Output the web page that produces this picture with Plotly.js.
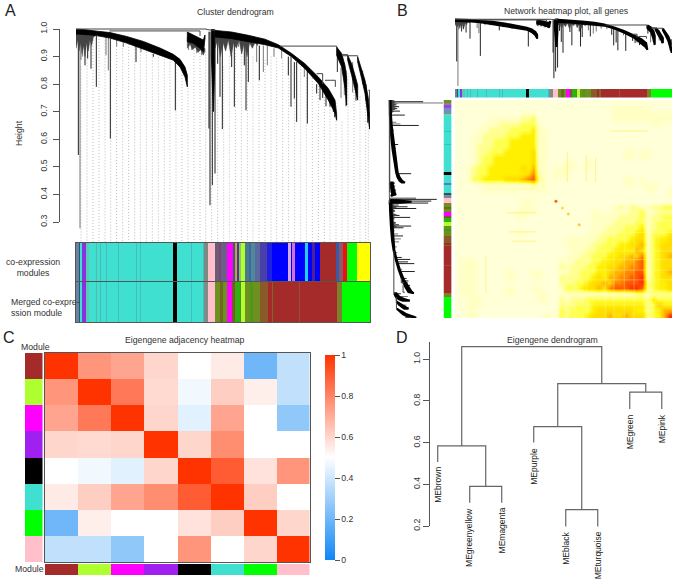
<!DOCTYPE html>
<html><head><meta charset="utf-8">
<script src="https://cdn.plot.ly/plotly-3.0.1.min.js"></script>
<style>html,body{margin:0;padding:0;background:#fff}</style></head>
<body><div id="chart" style="width:677px;height:579px"></div>
<script>
// ---------- Gene dendrogram (panels A and B): order along the tree, heights ----------
const bandOrder = [
  [0,22,57], [57,102,152,202,252,292,312,327,334], [334,352,372,382,387], [406,412,416],
  [417,467,517,567,607,647,687,727,757,777,782], [782,797,807,812], [815,827,837,845], [845,857,867,877,881]];
const bandHigh = [
  [.999,.998,.993], [.993,.987,.973,.955,.931,.908,.890,.862,.832], [.989,.978,.966,.960,.978], [.998,.998,.998],
  [.995,.989,.977,.963,.943,.911,.874,.826,.784,.742,.69], [.935,.911,.868,.820], [.905,.874,.832,.796], [.899,.856,.814,.748,.699]];
const bandLow = [
  [.982,.980,.977], [.977,.967,.949,.929,.905,.887,.862,.826,.790], [.954,.948,.930,.918,.966], [.90,.70,.85],
  [.971,.965,.953,.943,.931,.899,.856,.802,.742,.695,.669], [.905,.862,.784,.724], [.887,.832,.784,.742], [.881,.820,.766,.675,.637]];
const roughOrder = [[0,5,9,14,18,23,27,32,37,42,47,52,57],[417,425,433,441,449,457,465,473,481,489,497,505,513,521,529,537,545],[334,342,350,358,366,374,382,387]];
const roughHigh  = [[.995,.995,.995,.995,.995,.995,.995,.995,.995,.99,.99,.99,.99],[.985,.985,.985,.985,.98,.98,.98,.975,.975,.97,.97,.965,.96,.96,.955,.95,.945],[.97,.96,.96,.95,.95,.94,.93,.93]];
const roughLow   = [[.93,.96,.92,.95,.91,.94,.90,.95,.92,.96,.94,.97,.975],[.93,.96,.90,.95,.92,.96,.90,.95,.93,.96,.91,.95,.90,.95,.93,.95,.94],[.93,.945,.925,.935,.915,.925,.905,.92]];
const darkSpikeOrder = [7,27,35,45,61,103,180,232,298,402,409,417,425,432,439,467,475,505,510,517,550,637,645,655,662,694,722,732,740,750,762,772,776,784,810,840,870,875];
const darkSpikeHigh  = [.99,.98,.98,.98,.975,.965,.94,.91,.89,.99,.99,.97,.97,.97,.97,.965,.96,.95,.95,.95,.94,.9,.9,.88,.88,.85,.8,.8,.78,.76,.75,.74,.72,.91,.85,.8,.8,.72];
const darkSpikeLow   = [.543,.868,.893,.856,.79,.603,.88,.899,.705,.361,.434,.476,.874,.754,.637,.862,.718,.868,.705,.808,.814,.832,.718,.748,.663,.657,.766,.742,.75,.72,.718,.699,.68,.844,.72,.74,.74,.66];
const graySpikeOrder = [12,15,20,90,97,122,142,195,338,347,362,377,384,487,497,542,562,574,594,617,685,795,805,830,860];
const graySpikeHigh  = [.99,.98,.98,.97,.97,.96,.95,.93,.95,.95,.94,.92,.95,.96,.95,.95,.94,.94,.93,.93,.86,.86,.85,.88,.85];
const graySpikeLow   = [.277,.888,.9,.905,.85,.936,.935,.915,.924,.924,.912,.905,.924,.935,.911,.88,.844,.868,.899,.893,.826,.75,.76,.77,.8];
const thickSpikeOrder = [399];
const thickSpikeHigh  = [.99];
const thickSpikeLow   = [.639];
const linkOrder = [[0,392,392],[100,372,372],[392,417],[612,782,782],[747,778,778],[797,815,815],[800,845,845],[722,740,740],[877,881,881]];
const linkHeight = [[1,1,.998],[.993,.993,.975],[.998,.995],[.938,.938,.93],[.814,.814,.79],[.907,.907,.905],[.903,.903,.899],[.838,.838,.80],[.778,.778,.70]];
const guideOrder = [15,33,51,69,87,104,122,140,158,176,193,211,229,247,265,282,300,318,336,354,372,389,407,425,443,460,478,496,514,531,549,567,585,602,620,638,656,674,691,709,727,745,762,780,798,816,834,852,869,877];
const guideTop = [.864,.900,.960,.975,.970,.965,.960,.952,.946,.937,.929,.918,.908,.897,.890,.881,.864,.833,.785,.924,.924,.918,.912,.743,.864,.900,.924,.912,.912,.900,.888,.888,.900,.894,.888,.876,.876,.864,.846,.833,.815,.797,.773,.731,.664,.839,.815,.755,.743,.683];

// ---------- Module colour strips ----------
const T='turquoise', TD='#45bcc0', BK='black', PK='pink', MG='magenta', BR='brown', GY='greenyellow', PU='#8a30e0', BL='blue', LM='lime', OL='#6f8f20';
const sharedEdges  = [0,8,11,19,30,40,50,52,60,64,72,74,90,92,127,129,180,182,193,196,290,302,345,347,380,384];
const sharedModules= ['#6f7fa5','#1c5f5f',T,PU,'#5cc8b8',T,TD,T,'#5ab8b0',T,TD,T,TD,T,TD,T,TD,T,TD,T,BK,T,TD,T,TD];
const moduleEdges  = sharedEdges.concat([397,417,430,436,452,470,476,480,484,490,495,508,520,526,538,552,574,587,637,645,649,657,687,696,707,717,732,780,790,800,812,842,882]);
const moduleColors = sharedModules.concat(['#7d8a84',PK,'#6d5a75','#7a4a6a','#6a5f8a',MG,'#3a5a8a','#c8a020','#ff9020','#3040a8','#90c060',GY,'#4a7a8a','#3a68a8','#4f8898','#5a68a0','#4a3fa8','#2020e0',BL,'#d8a8e0',BL,'#d070d8',BL,'#20d0ff',BL,'#502090',BL,BR,'#3a5aa8','#8a5a6a','#f01010',LM,'yellow']);
const mergedTailEdges  = [397,417,432,442,452,469,477,492,495,508,522,530,552,577,587,592,668,671,782,797,882];
const mergedTailColors = ['#808a88',PK,OL,'#6a6a20',OL,MG,'#7a5a28','#30b010','#5a8a20',GY,OL,'#4a9a18',OL,'#8a5a28',BR,'#7a6a28',BR,'#9a5030',BR,'#7f7f30',LM];
const mergedEdges  = sharedEdges.concat(mergedTailEdges);
const mergedColors = sharedModules.concat(mergedTailColors);
const sideEdges    = [0,12,20,32,57,65,127,129,180,182,290,302,336,345,378,384].concat(mergedTailEdges);
const sideColors   = [OL,'#808a88','#a040e0','#6f8fc0','#60e090',T,TD,T,TD,T,BK,T,'#5a7ab8',T,'#205a6a'].concat(mergedTailColors);

// ---------- Panel B: topological overlap, lower triangle, one row per 1/40 of the genes ----------
const overlapRows = [
"0","00","000","0000","00000","000011","0001122"+"","00011223","000122233","0001223334",
"00012334444","000123344444","0012334444445","00123344444445","001334444555678","0000111111111121","00000111111111111","000000000000000000","0000000000001110000","00000000000011000000",
"00000000000111100000"+"0",
"00000000000110000000"+"00",
"00000000000000000000"+"000",
"00000000000000000000"+"0000",
"00000000000110000000"+"00001",
"00000000000000000000"+"111111",
"00000000000000000000"+"1111122",
"00000000000000000000"+"01112233",
"00000000000000000000"+"111223334",
"01110000000000000001"+"1122233445",
"01110000000000000002"+"12223344556",
"01110000011000110001"+"122333445667",
"01110000011000110002"+"2223345466778",
"01110000000000000002"+"22334556577888",
"01110000011000110001"+"333455657888998",
"01110000011000011001"+"111111111111122"+"1",
"00111000000000011002"+"122233333333333"+"24",
"00111000000000000002"+"223334444444444"+"236",
"00110000000000000003"+"233334555555544"+"2346",
"00110000000000001103"+"233345556556555"+"23469"];
const paleLineAt = [21.6,23.8,27.2,28.8,30.7,32.5,35.8,37.1];
const yellowLineAt = [5.2,20.2,23.7,25.4];
const yellowLineFrom = [28,9,9.5,10];
const yellowLineTo = [35,14.5,14.5,14.5];
const hubAt = [18.1,19.3,20.4,22.4];
const hubColor = ['#FF6000','#FFD860','#FFD040','#FFC840'];

// ---------- Panel C ----------
const eigenModules = ['brown','greenyellow','magenta','#a020f0','black','turquoise','lime','pink'];
const adjacency = [
 [1,.76,.72,.60,.50,.55,.20,.37],
 [.76,1,.83,.59,.47,.62,.54,.37],
 [.72,.83,1,.60,.44,.72,.50,.27],
 [.60,.59,.60,1,.60,.78,.50,.50],
 [.50,.47,.44,.60,1,.90,.57,.76],
 [.55,.62,.72,.78,.90,1,.62,.50],
 [.20,.54,.50,.50,.57,.62,1,.60],
 [.37,.37,.27,.50,.76,.50,.60,1]];

// ---------- Panel D ----------
const eigenLeaves = ['MEbrown','MEgreenyellow','MEmagenta','MEpurple','MEblack','MEturquoise','MEgreen','MEpink'];
const leafEnds    = [.50,.309,.309,.592,.197,.197,.749,.749];
const mergeX = [[1,1,2.5,2.5],[2,2,3,3],[4,4,5.5,5.5],[5,5,6,6],[7,7,8,8],[4.75,4.75,7.5,7.5],[1.75,1.75,6.125,6.125]];
const mergeH = [[.50,.576,.576,.386],[.309,.386,.386,.309],[.592,.667,.667,.277],[.197,.277,.277,.197],[.749,.829,.829,.749],[.667,.869,.869,.829],[.576,1.042,1.042,.869]];

// ---------- helpers ----------
const W=677,H=579, FONT='"Liberation Sans", Arial, sans-serif', TXT='#333', AX='#555', FS=8.7;
const layout={width:W,height:H,margin:{l:0,r:0,t:0,b:0,pad:0},paper_bgcolor:'#fff',plot_bgcolor:'rgba(0,0,0,0)',showlegend:false,font:{family:FONT,color:TXT,size:FS},annotations:[]};
const data=[]; let axN=0;
function pane(l,r,t,b,xo,yo){
  axN++; const s=axN===1?'':axN;
  const hidden={visible:false,fixedrange:true,showgrid:false,zeroline:false};
  layout['xaxis'+s]=Object.assign({},hidden,{domain:[l/W,r/W],anchor:'y'+s},xo||{});
  layout['yaxis'+s]=Object.assign({},hidden,{domain:[1-b/H,1-t/H],anchor:'x'+s},yo||{});
  return {xaxis:'x'+s,yaxis:'y'+s,key:s};
}
function frame(o){return Object.assign({visible:true,showline:true,mirror:true,linecolor:AX,linewidth:1,ticks:'',showticklabels:false},o);}
function strip(p,edges,colors,vertical){
  const n=colors.length, scale=[];
  colors.forEach((c,i)=>{scale.push([i/n,c]);scale.push([(i+1)/n,c]);});
  const idx=colors.map((c,i)=>i+.5);
  const t=Object.assign({type:'heatmap',showscale:false,zmin:0,zmax:n,colorscale:scale,hoverinfo:'skip'},p);
  if(vertical){t.y=edges;t.x=[0,1];t.z=idx.map(v=>[v]);}
  else{t.x=edges;t.y=[0,1];t.z=[idx];}
  data.push(t);
}
function tree(p,swap,lw){
  const put=(xs,ys,line,extra)=>data.push(Object.assign({type:'scatter',mode:'lines',x:swap?ys:xs,y:swap?xs:ys,line:line,hoverinfo:'skip'},p,extra||{}));
  const seg=(o,hi,lo,line)=>{const a=[],b=[];o.forEach((v,i)=>{a.push(v,v,null);b.push(hi[i],lo[i],null);});put(a,b,line);};
  const poly=(ord,hi,lo,color,w)=>{const px=[],py=[];
    ord.forEach((o,i)=>{px.push(...o,...o.slice().reverse(),o[0],null);py.push(...hi[i],...lo[i].slice().reverse(),hi[i][0],null);});
    put(px,py,{color:color,width:w},{fill:'toself',fillcolor:color});};
  seg(graySpikeOrder,graySpikeHigh,graySpikeLow,{color:'#777',width:1});
  seg(thickSpikeOrder,thickSpikeHigh,thickSpikeLow,{color:'#888',width:2});
  seg(darkSpikeOrder,darkSpikeHigh,darkSpikeLow,{color:'#222',width:1});
  poly(roughOrder,roughHigh,roughLow,'#444',.5);
  poly(bandOrder,bandHigh,bandLow,'#000',lw);
  const lx=[],ly=[];
  linkOrder.forEach((o,i)=>{lx.push(...o,null);ly.push(...linkHeight[i],null);});
  put(lx,ly,{color:'#444',width:1});
}
function note(text,px,py,o){layout.annotations.push(Object.assign({xref:'paper',yref:'paper',x:px/W,y:1-py/H,text:text,showarrow:false,xanchor:'center',yanchor:'middle',font:{family:FONT,size:FS,color:TXT}},o||{}));}
function rAxis(l,t,b,lo,hi,vals,labels,standoff){
  const p=pane(l+1,l+2,t,b,{range:[0,1]},{visible:true,range:[lo,hi],anchor:'free',position:l/W,side:'left',showline:true,linecolor:AX,linewidth:1,ticks:'outside',ticklen:6,tickcolor:AX,tickwidth:1,tickangle:-90,tickvals:vals,ticktext:labels,ticklabelstandoff:standoff,tickfont:{family:FONT,size:FS,color:TXT}});
  data.push(Object.assign({type:'scatter',mode:'lines',x:[0,0],y:[lo,hi],line:{width:0,color:'rgba(0,0,0,0)'},hoverinfo:'skip'},p));
}

// ---------- Panel A ----------
const a=pane(76,370,22,243,{range:[0,882]},{range:[.2238,1.0254]});
{const gx=[],gy=[];guideOrder.forEach((o,i)=>{gx.push(o,o,null);gy.push(guideTop[i],.2238,null);});
 data.push(Object.assign({type:'scatter',mode:'lines',x:gx,y:gy,line:{color:'#bbb',width:1,dash:'1px,2px'},hoverinfo:'skip'},a));}
tree(a,false,.8);
rAxis(59,29,222,.3,1,[.3,.4,.5,.6,.7,.8,.9,1],['0.3','0.4','0.5','0.6','0.7','0.8','0.9','1.0'],3);
strip(pane(76,370,243,282,frame({range:[0,882]}),frame({range:[0,1]})),moduleEdges,moduleColors,false);
strip(pane(76,370,282,322,frame({range:[0,882]}),frame({range:[0,1]})),mergedEdges,mergedColors,false);
note('Cluster dendrogram',235,12);
note('Height',19,133,{textangle:-90});
note('co-expression<br>modules',33,267);
note('Merged co-expre-<br>ssion module',8.5,307,{xanchor:'left',align:'left'});
note('A',10,10,{font:{family:FONT,size:16,color:'#222'}});

// ---------- Panel B ----------
tree(pane(455,672,18,88,{range:[0,882]},{range:[.255,1.014]}),false,2);
tree(pane(388.5,443.5,100,318,{range:[1.01,.27]},{range:[882,0]}),true,2);
strip(pane(455,672,89,97.5,{range:[0,882]},{range:[0,1]}),mergedEdges,mergedColors,false);
strip(pane(443.5,451.7,100,318,{range:[0,1]},{range:[882,0]}),sideEdges,sideColors,true);
{const n=overlapRows.length, m=[];
 for(let i=0;i<n;i++){m.push(new Array(n).fill(0));}
 overlapRows.forEach((r,i)=>{for(let j=0;j<=i&&j<r.length;j++){m[i][j]=+r[j];m[j][i]=+r[j];}});
 const hp=pane(455,672,100,318,{range:[-.5,n-.5]},{range:[n-.5,-.5]});
 data.push(Object.assign({type:'heatmap',z:m,zmin:0,zmax:9,zsmooth:'best',showscale:false,hoverinfo:'skip',
  colorscale:[[0,'#FFFFD8'],[.11,'#FFFFC4'],[.22,'#FFFF90'],[.33,'#FFFF50'],[.44,'#FFF000'],[.56,'#FFDC00'],[.67,'#FFB400'],[.78,'#FF8800'],[.89,'#FF5800'],[1,'#FF3000']]},hp));
 const px=[],py=[];
 paleLineAt.forEach(v=>{px.push(20,39.5,null,v,v,null);py.push(v,v,null,20,39.5,null);});
 data.push(Object.assign({type:'scatter',mode:'lines',x:px,y:py,line:{color:'rgba(255,255,190,.32)',width:1},hoverinfo:'skip'},hp));
 const yx=[],yy=[];
 yellowLineAt.forEach((v,i)=>{yx.push(yellowLineFrom[i],yellowLineTo[i],null,v,v,null);yy.push(v,v,null,yellowLineFrom[i],yellowLineTo[i],null);});
 data.push(Object.assign({type:'scatter',mode:'lines',x:yx,y:yy,line:{color:'rgba(255,225,0,.3)',width:1.2},hoverinfo:'skip'},hp));
 data.push(Object.assign({type:'scatter',mode:'markers',x:hubAt,y:hubAt,marker:{color:hubColor,size:3,line:{width:0}},hoverinfo:'skip'},hp));
}
note('Network heatmap plot, all genes',566.7,11);
note('B',402,10,{font:{family:FONT,size:16,color:'#222'}});

// ---------- Panel C ----------
data.push(Object.assign({type:'heatmap',z:adjacency,zmin:0,zmax:1,hoverinfo:'skip',
  colorscale:[[0,'#0F87F5'],[.5,'#FFFFFF'],[1,'#FF3300']],showscale:true,
  colorbar:{x:325/W,xanchor:'left',y:1-560/H,yanchor:'bottom',len:205/H,lenmode:'fraction',thickness:9.5,thicknessmode:'pixels',xpad:0,ypad:0,outlinewidth:0,
    tickvals:[0,.2,.4,.6,.8,1],ticktext:['0','0.2','0.4','0.6','0.8','1'],ticks:'outside',ticklen:5,tickcolor:AX,tickfont:{family:FONT,size:FS,color:TXT}}},
  pane(45,309.5,353,562,frame({range:[-.5,7.5]}),frame({range:[7.5,-.5]}))));
const eightEdges=[0,1,2,3,4,5,6,7,8];
strip(pane(25,42.5,353,562,{range:[0,1]},{range:[8,0]}),eightEdges,eigenModules,true);
strip(pane(45,309.5,564,575,{range:[0,8]},{range:[0,1]}),eightEdges,eigenModules,false);
note('Eigengene adjacency heatmap',184,340);
note('Module',35,347);
note('Module',29,569);
note('C',9,337,{font:{family:FONT,size:16,color:'#222'}});

// ---------- Panel D ----------
const d=pane(429,672,340,530,{range:[.728,8.32]},{range:[.1808,1.0736]});
{const x=[],y=[];
 mergeX.forEach((m,i)=>{x.push(...m,null);y.push(...mergeH[i],null);});
 data.push(Object.assign({type:'scatter',mode:'lines',x:x,y:y,line:{color:'#666',width:1.2},hoverinfo:'skip'},d));
 eigenLeaves.forEach((name,i)=>layout.annotations.push({xref:d.xaxis,yref:d.yaxis,x:i+1,y:leafEnds[i],text:name,textangle:-90,showarrow:false,xanchor:'center',yanchor:'top',yshift:-3,font:{family:FONT,size:8.5,color:'#222'}}));}
rAxis(429,342,526,.2,1.083,[.2,.4,.6,.8,1],['0.2','0.4','0.6','0.8','1.0'],0);
note('Eigengene dendrogram',552,340);
note('D',402,337,{font:{family:FONT,size:16,color:'#222'}});

Plotly.newPlot('chart',data,layout,{displayModeBar:false,staticPlot:true});
</script></body></html>
